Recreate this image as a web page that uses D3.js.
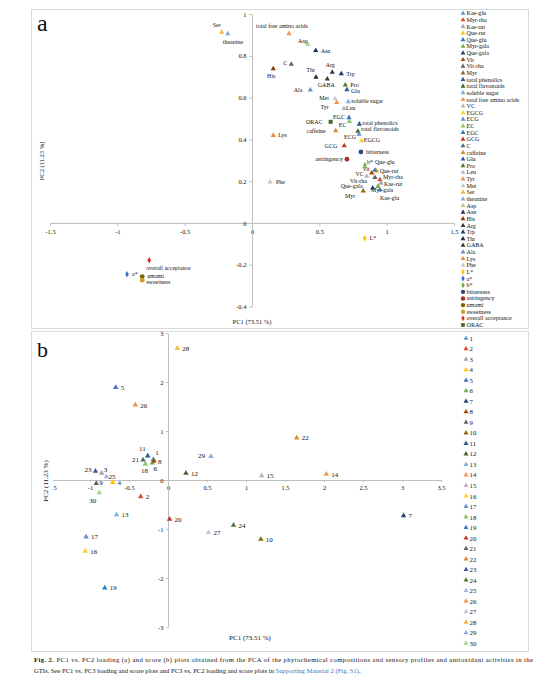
<!DOCTYPE html>
<html>
<head>
<meta charset="utf-8">
<script src="https://cdn.jsdelivr.net/npm/d3@7"></script>
<style>
  body { margin: 0; background: #fff; }
  svg { display: block; }
  text { font-family: "Liberation Serif", "DejaVu Serif", serif; fill: #111; }
</style>
</head>
<body>
<div id="chart"></div>
<script>
// ---- loading plot (a) ----
const loadNames = ['Kae-glu', 'Myr-rha', 'Kae-rut', 'Que-rut', 'Que-glu', 'Myr-gala', 'Que-gala', 'Vit',
  'Vit-rha', 'Myr', 'total phenolics', 'total flavonoids', 'soluble sugar', 'total free amino acids',
  'VC', 'EGCG', 'ECG', 'EC', 'EGC', 'GCG', 'C', 'caffeine', 'Glu', 'Pro', 'Leu', 'Tyr', 'Met', 'Ser',
  'theanine', 'Asp', 'Asn', 'His', 'Arg', 'Trp', 'Thr', 'GABA', 'Ala', 'Lys', 'Phe', 'L*', 'a*', 'b*',
  'bitterness', 'astringency', 'umami', 'sweetness', 'overall acceptance', 'ORAC'];
const loadPC1 = [0.95, 0.95, 0.958, 0.926, 0.913, 0.936, 0.896, 0.889,
  0.913, 0.826, 0.797, 0.787, 0.715, 0.275,
  0.852, 0.815, 0.795, 0.724, 0.72, 0.685, 0.292, 0.622, 0.705, 0.693, 0.683, 0.629, 0.616, -0.225,
  -0.18, 0.414, 0.473, 0.158, 0.596, 0.663, 0.475, 0.559, 0.433, 0.158, 0.134, 0.837, -0.928, 0.839,
  0.809, 0.705, -0.815, -0.815, -0.763, 0.584];
const loadPC2 = [0.159, 0.207, 0.19, 0.249, 0.252, 0.175, 0.167, 0.239,
  0.217, 0.153, 0.473, 0.439, 0.58, 0.906,
  0.223, 0.393, 0.425, 0.485, 0.504, 0.369, 0.759, 0.441, 0.638, 0.66, 0.548, 0.577, 0.594, 0.913,
  0.906, 0.855, 0.825, 0.738, 0.721, 0.714, 0.697, 0.689, 0.636, 0.419, 0.196, -0.073, -0.246, 0.276,
  0.34, 0.305, -0.257, -0.274, -0.179, 0.484];

// ---- score plot (b) ----
const scoreIds = ['1', '2', '3', '4', '5', '6', '7', '8', '9', '10', '11', '12', '13', '14', '15',
  '16', '17', '18', '19', '20', '21', '22', '23', '24', '25', '26', '27', '28', '29', '30'];
const scorePC1 = [-0.19, -0.35, -0.85, -0.71, -0.67, -0.2, 3.02, -0.18, -0.92, 1.19, -0.26, 0.23, -0.66, 2.03, 1.2,
  -1.06, -1.05, -0.29, -0.81, 0.02, -0.32, 1.65, -0.93, 0.84, -0.79, -0.42, 0.52, 0.12, 0.55, -0.88];
const scorePC2 = [0.42, -0.34, 0.14, -0.05, 1.89, 0.35, -0.73, 0.39, -0.07, -1.21, 0.49, 0.14, -0.71, 0.12, 0.09,
  -1.45, -1.16, 0.33, -2.2, -0.8, 0.41, 0.86, 0.18, -0.92, 0.07, 1.53, -1.07, 2.69, 0.48, -0.26];

const ticksAx = [-1.5, -1, -0.5, 0, 0.5, 1, 1.5];
const ticksAy = [-0.4, -0.2, 0, 0.2, 0.4, 0.6, 0.8, 1];
const ticksBx = [-1.5, -1, -0.5, 0, 0.5, 1, 1.5, 2, 2.5, 3, 3.5];
const ticksBy = [-3, -2, -1, 0, 1, 2, 3];

// ---- styles ----
const palette = ['#5B9BD5', '#D9472B', '#A5A5A5', '#FFC000', '#4472C4', '#70AD47', '#264478', '#9E480E',
  '#636363', '#8a6a10', '#255E91', '#43682B', '#7CAFDD', '#F1975A', '#B7B7B7', '#FFCD33', '#698ED0',
  '#8CC168', '#327DC2', '#C8352A', '#5a6470', '#D98A2B', '#335AA1', '#4f7a32', '#9DB8E0', '#F0914A',
  '#C9C9C9', '#F5B73A', '#8EA9DB', '#A9D18E', '#1F3864', '#843C0C', '#3B3B3B', '#1F3A6B', '#203040',
  '#2E4A1E', '#6F8FBF', '#F08A40', '#C8C8C8', '#FFC000', '#4472C4', '#70AD47', '#2F4A7A', '#A0302A',
  '#7F6000', '#C9A227', '#D03030', '#3D6B2B'];
const shapeOf = {
  'L*': d3.symbolDiamond, 'a*': d3.symbolDiamond, 'b*': d3.symbolDiamond,
  'bitterness': d3.symbolCircle, 'astringency': d3.symbolCircle, 'umami': d3.symbolCircle,
  'sweetness': d3.symbolCircle, 'overall acceptance': d3.symbolDiamond, 'ORAC': d3.symbolSquare
};
const sizeOf = s => s === d3.symbolCircle ? 18 : s === d3.symbolSquare ? 16 : 12;

// label placement: [anchor, dx, dy]
const labelA = {
  'Kae-glu': ['s', 0, 10], 'Myr-rha': ['s', 3, -1], 'Kae-rut': ['s', 3, 3], 'Que-rut': ['s', 3, 2],
  'Que-glu': ['s', 0, -6], 'Myr-gala': ['s', -7, 6], 'Que-gala': ['e', -10, 0], 'Vit': ['e', -2, -2],
  'Vit-rha': ['e', -8, 5], 'Myr': ['e', -8, 7], 'total phenolics': ['s', 3, 1],
  'total flavonoids': ['s', 3, 0], 'soluble sugar': ['s', 3, 1], 'total free amino acids': ['s', -33, -6],
  'VC': ['e', -3, 0], 'EGCG': ['s', 2, 1], 'ECG': ['e', -3, 5], 'EC': ['e', -3, 5], 'EGC': ['e', -4, 1],
  'GCG': ['e', -7, 2], 'C': ['e', -4, 1], 'caffeine': ['e', -10, 2], 'Glu': ['s', 4, 3], 'Pro': ['s', 5, 2],
  'Leu': ['s', 2, 2], 'Tyr': ['e', -8, 7], 'Met': ['e', -6, 1], 'Ser': ['m', -5, -5],
  'theanine': ['s', -5, 10], 'Asp': ['e', 0, -1], 'Asn': ['s', 5, 2], 'His': ['m', -2, 9],
  'Arg': ['m', -2, -5], 'Trp': ['s', 5, 2], 'Thr': ['e', -1, -5], 'GABA': ['m', -1, 8],
  'Ala': ['e', -8, 2], 'Lys': ['s', 5, 2], 'Phe': ['s', 6, 2], 'L*': ['s', 5, 2], 'a*': ['s', 5, 2],
  'b*': ['s', 2, -1], 'bitterness': ['s', 5, 2], 'astringency': ['e', -4, 2], 'umami': ['s', 5, 1],
  'sweetness': ['s', 4, 4], 'overall acceptance': ['s', -3, 10], 'ORAC': ['e', -8, 2]
};
const labelB = {
  '11': ['e', -2, -5], '1': ['s', 2, -4], '21': ['e', -4, 2], '8': ['s', 4, 3], '6': ['s', 1, 8],
  '18': ['m', -1, 9], '29': ['e', -6, 2], '23': ['e', -4, 1], '3': ['s', 2, -1], '25': ['s', 2, 2],
  '9': ['s', 3, 2], '30': ['e', -3, 10]
};
const anchor = { s: 'start', e: 'end', m: 'middle' };

const svg = d3.select('#chart').append('svg').attr('width', 554).attr('height', 679);

// panel frames
svg.append('rect').attr('x', 31.5).attr('y', 9.5).attr('width', 497).attr('height', 319)
  .attr('fill', '#fff').attr('stroke', '#d9d9d9');
svg.append('rect').attr('x', 31.5).attr('y', 331.5).attr('width', 497).attr('height', 320)
  .attr('fill', '#fff').attr('stroke', '#d9d9d9');

function drawAxes(g, x, y, xt, yt, fs, tk) {
  const fmt = d => String(d);
  const ax = g.append('g').attr('transform', `translate(0,${y(0)})`)
    .call(d3.axisBottom(x).tickValues(xt).tickSize(tk).tickPadding(3).tickSizeOuter(0).tickFormat(fmt));
  const ay = g.append('g').attr('transform', `translate(${x(0)},0)`)
    .call(d3.axisLeft(y).tickValues(yt).tickSize(tk).tickPadding(2.5).tickSizeOuter(0).tickFormat(fmt));
  [ax, ay].forEach(a => {
    a.attr('font-family', null).attr('font-size', fs);
    a.select('.domain').attr('stroke', '#bfbfbf');
    a.selectAll('.tick line').attr('stroke', '#bfbfbf');
    a.selectAll('.tick text').attr('fill', '#222');
  });
}

// ---------- panel a ----------
const xA = d3.scaleLinear().domain([-1.5, 1.5]).range([50, 454]);
const yA = d3.scaleLinear().domain([-0.4, 1]).range([306.5, 14]);
const gA = svg.append('g');
drawAxes(gA, xA, yA, ticksAx, ticksAy, 6.5, 3);

const loadData = loadNames.map((n, i) => ({ name: n, x: loadPC1[i], y: loadPC2[i], color: palette[i] }));

gA.selectAll('path.pt').data(loadData).enter().append('path')
  .attr('class', 'pt')
  .attr('transform', d => `translate(${xA(d.x)},${yA(d.y)})`)
  .attr('d', d => {
    const s = shapeOf[d.name] || d3.symbolTriangle;
    return d3.symbol().type(s).size(sizeOf(s))();
  })
  .attr('fill', d => d.color);

gA.selectAll('text.lab').data(loadData).enter().append('text')
  .attr('class', 'lab')
  .attr('x', d => xA(d.x) + labelA[d.name][1])
  .attr('y', d => yA(d.y) + labelA[d.name][2])
  .attr('text-anchor', d => anchor[labelA[d.name][0]])
  .attr('font-size', 6)
  .text(d => d.name);

svg.append('text').attr('x', 37).attr('y', 31).attr('font-size', 24).text('a');
svg.append('text').attr('x', 252).attr('y', 324).attr('text-anchor', 'middle').attr('font-size', 6.5)
  .text('PC1 (73.51 %)');
svg.append('text').attr('transform', 'translate(44,161) rotate(-90)').attr('text-anchor', 'middle')
  .attr('font-size', 6.5).text('PC2 (11.23 %)');

// legend a
const legA = d3.scaleLinear().domain([0, loadNames.length - 1]).range([13.3, 325]);
const lgA = svg.append('g').selectAll('g').data(loadData).enter().append('g')
  .attr('transform', (d, i) => `translate(463,${legA(i)})`);
lgA.append('path')
  .attr('d', d => {
    const s = shapeOf[d.name] || d3.symbolTriangle;
    return d3.symbol().type(s).size(sizeOf(s) * 0.85)();
  })
  .attr('fill', d => d.color);
lgA.append('text').attr('x', 3.5).attr('y', 2).attr('font-size', 6.1).text(d => d.name);

// ---------- panel b ----------
const xB = d3.scaleLinear().domain([-1.5, 3.5]).range([51, 441]);
const yB = d3.scaleLinear().domain([-3, 3]).range([627, 333]);
const gB = svg.append('g');
drawAxes(gB, xB, yB, ticksBx, ticksBy, 6.5, 2);

const scoreData = scoreIds.map((n, i) => ({ name: n, x: scorePC1[i], y: scorePC2[i], color: palette[i] }));

gB.selectAll('path.pt').data(scoreData).enter().append('path')
  .attr('class', 'pt')
  .attr('transform', d => `translate(${xB(d.x)},${yB(d.y)})`)
  .attr('d', d3.symbol().type(d3.symbolTriangle).size(13)())
  .attr('fill', d => d.color);

gB.selectAll('text.lab').data(scoreData).enter().append('text')
  .attr('class', 'lab')
  .attr('x', d => xB(d.x) + (labelB[d.name] ? labelB[d.name][1] : 5))
  .attr('y', d => yB(d.y) + (labelB[d.name] ? labelB[d.name][2] : 2.5))
  .attr('text-anchor', d => labelB[d.name] ? anchor[labelB[d.name][0]] : 'start')
  .attr('font-size', 7)
  .text(d => d.name);

svg.append('text').attr('x', 37).attr('y', 357).attr('font-size', 22).text('b');
svg.append('text').attr('x', 250).attr('y', 640).attr('text-anchor', 'middle').attr('font-size', 7)
  .text('PC1 (73.51 %)');
svg.append('rect').attr('x', 40).attr('y', 455).attr('width', 12.5).attr('height', 52).attr('fill', '#fff');
svg.append('text').attr('transform', 'translate(47.5,481) rotate(-90)').attr('text-anchor', 'middle')
  .attr('font-size', 7).text('PC2 (11.23 %)');

// legend b
const legB = d3.scaleLinear().domain([0, scoreIds.length - 1]).range([338.3, 643.2]);
const lgB = svg.append('g').selectAll('g').data(scoreData).enter().append('g')
  .attr('transform', (d, i) => `translate(466,${legB(i)})`);
lgB.append('path').attr('d', d3.symbol().type(d3.symbolTriangle).size(11)()).attr('fill', d => d.color);
lgB.append('text').attr('x', 3.5).attr('y', 2.5).attr('font-size', 6.8).text(d => d.name);

// ---------- caption ----------
const cap1 = svg.append('text').attr('x', 34).attr('y', 662).attr('font-size', 6.6)
  .attr('textLength', 499).attr('lengthAdjust', 'spacing');
cap1.append('tspan').attr('font-weight', 'bold').text('Fig. 2.');
cap1.append('tspan').text(' PC1 vs. PC2 loading (a) and score (b) plots obtained from the PCA of the phytochemical compositions and sensory profiles and antioxidant activities in the');
const cap2 = svg.append('text').attr('x', 34).attr('y', 673).attr('font-size', 6.6);
cap2.append('tspan').text('GTIs. See PC1 vs. PC3 loading and score plots and PC3 vs. PC2 loading and score plots in ');
cap2.append('tspan').style('fill', '#3a78b8').text('Supporting Material 2 (Fig. S1)');
cap2.append('tspan').text('.');
</script>
</body>
</html>
